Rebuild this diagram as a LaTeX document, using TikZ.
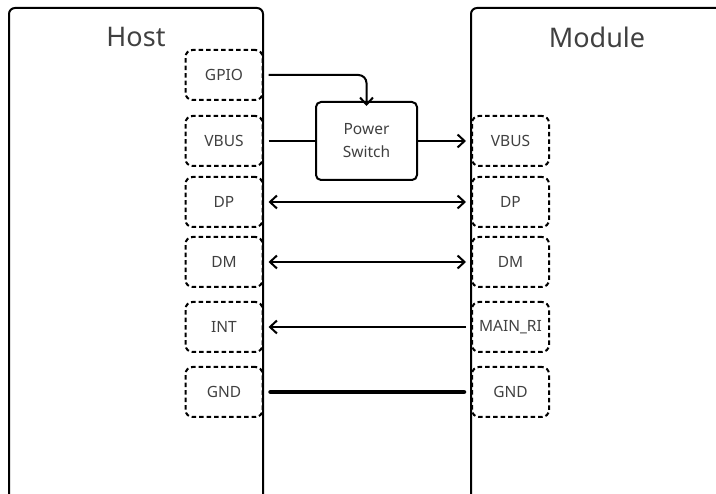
\documentclass[tikz,border=0pt]{standalone}
\usepackage{fontspec}
\setmainfont{Noto Sans}
\usetikzlibrary{arrows.meta}
\definecolor{txt}{HTML}{404040}
\begin{document}
\begin{tikzpicture}[x=1pt,y=-1pt,
  boxline/.style={draw=black, line width=2pt, rounded corners=6pt},
  title/.style={text=txt, font=\fontsize{27}{30}\selectfont, inner sep=0pt},
  pinbox/.style={draw=black, dash pattern=on 4.5pt off 3pt, line width=2pt,
    rounded corners=7pt, minimum width=77pt, minimum height=50pt, inner sep=0pt,
    text=txt, font=\fontsize{15.5}{18}\selectfont},
  swbox/.style={draw=black, line width=2pt, rounded corners=5pt,
    minimum width=101pt, minimum height=78pt, inner sep=0pt, align=center,
    text=txt, font=\fontsize{15.5}{23}\selectfont},
  sig/.style={draw=black, line width=2pt},
  tip/.style={-{Straight Barb[length=7pt,width=13pt]}},
  tips/.style={{Straight Barb[length=7pt,width=13pt]}-{Straight Barb[length=7pt,width=13pt]}},
  gnd/.style={draw=black, line width=4.5pt, line cap=round}
]
\useasboundingbox (0,0) rectangle (716,494);
% Host and Module outlines
\draw[boxline] (9,494) -- (9,8) -- (263,8) -- (263,494);
\draw[boxline] (471,494) -- (471,8) -- (730,8);
\node[title] (host) at (136,37) {Host};
\node[title] (module) at (597,37) {Module};
% Host pins
\node[pinbox] (hgpio) at (224,75) {GPIO};
\node[pinbox] (hvbus) at (224,141) {VBUS};
\node[pinbox] (hdp) at (224,202) {DP};
\node[pinbox] (hdm) at (224,262) {DM};
\node[pinbox] (hint) at (224,327) {INT};
\node[pinbox] (hgnd) at (224,392) {GND};
% Module pins
\node[pinbox] (mvbus) at (510.5,141) {VBUS};
\node[pinbox] (mdp) at (510.5,202) {DP};
\node[pinbox] (mdm) at (510.5,262) {DM};
\node[pinbox] (mri) at (510.5,327) {MAIN\_RI};
\node[pinbox] (mgnd) at (510.5,392) {GND};
% Power switch
\node[swbox] (psw) at (366.5,141) {Power\\Switch};
% Connections
\draw[sig, tip, rounded corners=8pt] ([xshift=5pt]hgpio.east) -| ([yshift=-5pt]psw.north);
\draw[sig] ([xshift=5pt]hvbus.east) -- (psw.west);
\draw[sig, tip] (psw.east) -- ([xshift=-5pt]mvbus.west);
\draw[sig, tips] ([xshift=5pt]hdp.east) -- ([xshift=-5pt]mdp.west);
\draw[sig, tips] ([xshift=5pt]hdm.east) -- ([xshift=-5pt]mdm.west);
\draw[sig, tip] ([xshift=-5pt]mri.west) -- ([xshift=5pt]hint.east);
\draw[gnd] ([xshift=7pt]hgnd.east) -- ([xshift=-7pt]mgnd.west);
\end{tikzpicture}
\end{document}
